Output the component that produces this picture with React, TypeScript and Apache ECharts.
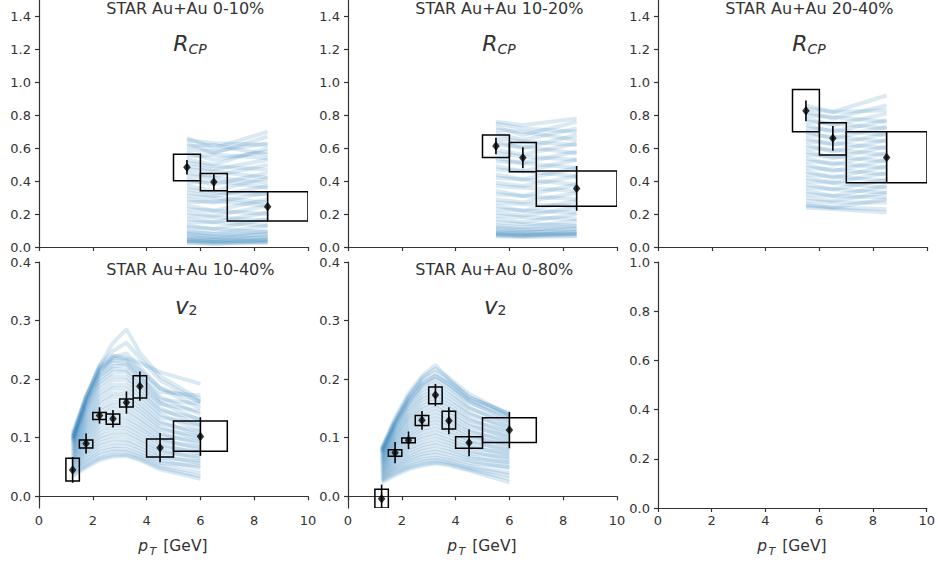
import { useEffect, useRef } from 'react';
import * as echarts from 'echarts';

// ---------- data ----------
const rcpPt = [5.5, 6.5, 8.5];
const rcpBinLo = [5, 6, 7];
const rcpBinHi = [6, 7, 10];

const rcp0010 = [0.484, 0.394, 0.245];
const rcp0010Stat = [0.044, 0.05, 0.09];
const rcp0010SysLo = [0.402, 0.342, 0.158];
const rcp0010SysHi = [0.564, 0.447, 0.336];

const rcp1020 = [0.613, 0.542, 0.356];
const rcp1020Stat = [0.05, 0.064, 0.136];
const rcp1020SysLo = [0.544, 0.457, 0.247];
const rcp1020SysHi = [0.68, 0.635, 0.461];

const rcp2040 = [0.827, 0.66, 0.544];
const rcp2040Stat = [0.063, 0.075, 0.155];
const rcp2040SysLo = [0.7, 0.558, 0.39];
const rcp2040SysHi = [0.957, 0.754, 0.7];

const v2Pt = [1.25, 1.75, 2.25, 2.75, 3.25, 3.75, 4.5, 6];
const v2BinLo = [1, 1.5, 2, 2.5, 3, 3.5, 4, 5];
const v2BinHi = [1.5, 2, 2.5, 3, 3.5, 4, 5, 7];

const v21040 = [0.045, 0.09, 0.138, 0.1325, 0.16, 0.188, 0.083, 0.102];
const v21040Stat = [0.022, 0.017, 0.014, 0.015, 0.019, 0.025, 0.025, 0.033];
const v21040SysLo = [0.026, 0.0825, 0.131, 0.123, 0.1525, 0.168, 0.067, 0.077];
const v21040SysHi = [0.065, 0.096, 0.143, 0.1405, 0.166, 0.206, 0.098, 0.1285];

const v20080 = [-0.004, 0.0745, 0.0956, 0.1297, 0.173, 0.129, 0.0915, 0.113];
const v20080Stat = [0.024, 0.018, 0.015, 0.016, 0.019, 0.023, 0.023, 0.031];
const v20080SysLo = [-0.02, 0.0683, 0.0915, 0.121, 0.158, 0.115, 0.082, 0.092];
const v20080SysHi = [0.012, 0.0796, 0.0995, 0.138, 0.1866, 0.145, 0.1018, 0.134];

// model curves (values at rcpPt)
const rcpCurves0010 = [
  [0.66, 0.60, 0.70], [0.65, 0.63, 0.62], [0.63, 0.57, 0.67], [0.61, 0.62, 0.56],
  [0.59, 0.58, 0.63], [0.57, 0.53, 0.58], [0.55, 0.56, 0.54], [0.53, 0.50, 0.60],
  [0.51, 0.49, 0.47], [0.49, 0.47, 0.53], [0.47, 0.46, 0.42], [0.45, 0.43, 0.50],
  [0.43, 0.42, 0.39], [0.41, 0.38, 0.45], [0.39, 0.40, 0.36], [0.37, 0.34, 0.42],
  [0.35, 0.33, 0.32], [0.33, 0.31, 0.37], [0.31, 0.30, 0.27], [0.29, 0.27, 0.33],
  [0.27, 0.28, 0.25], [0.25, 0.22, 0.29], [0.23, 0.22, 0.20], [0.21, 0.19, 0.25],
  [0.19, 0.18, 0.16], [0.17, 0.15, 0.21], [0.15, 0.15, 0.13], [0.13, 0.11, 0.17],
  [0.12, 0.11, 0.09], [0.10, 0.08, 0.13], [0.09, 0.08, 0.07], [0.08, 0.06, 0.10],
  [0.07, 0.06, 0.05], [0.06, 0.05, 0.08], [0.05, 0.04, 0.04], [0.045, 0.04, 0.06],
  [0.04, 0.03, 0.03], [0.035, 0.03, 0.045], [0.03, 0.02, 0.025], [0.025, 0.02, 0.035],
];
const rcpCurves1020 = [
  [0.76, 0.74, 0.78], [0.75, 0.72, 0.70], [0.73, 0.68, 0.76], [0.71, 0.70, 0.65],
  [0.69, 0.65, 0.72], [0.66, 0.64, 0.62], [0.64, 0.60, 0.68], [0.62, 0.61, 0.57],
  [0.59, 0.56, 0.63], [0.57, 0.55, 0.53], [0.54, 0.51, 0.58], [0.52, 0.51, 0.48],
  [0.49, 0.46, 0.53], [0.47, 0.46, 0.43], [0.44, 0.41, 0.48], [0.42, 0.41, 0.38],
  [0.39, 0.37, 0.43], [0.37, 0.36, 0.34], [0.34, 0.31, 0.38], [0.32, 0.31, 0.29],
  [0.29, 0.27, 0.33], [0.27, 0.26, 0.25], [0.25, 0.22, 0.28], [0.23, 0.22, 0.21],
  [0.21, 0.19, 0.24], [0.19, 0.18, 0.17], [0.17, 0.15, 0.20], [0.15, 0.14, 0.13],
  [0.13, 0.12, 0.16], [0.12, 0.11, 0.11], [0.11, 0.10, 0.13], [0.10, 0.09, 0.09],
  [0.09, 0.085, 0.11], [0.085, 0.08, 0.08], [0.08, 0.07, 0.09], [0.075, 0.07, 0.07],
  [0.07, 0.065, 0.08], [0.065, 0.06, 0.065],
];
const rcpCurves2040 = [
  [0.86, 0.82, 0.92], [0.84, 0.82, 0.83], [0.82, 0.78, 0.86], [0.80, 0.79, 0.76],
  [0.78, 0.74, 0.81], [0.76, 0.75, 0.72], [0.74, 0.70, 0.77], [0.72, 0.71, 0.68],
  [0.70, 0.66, 0.73], [0.68, 0.67, 0.64], [0.66, 0.62, 0.69], [0.64, 0.63, 0.60],
  [0.62, 0.58, 0.65], [0.60, 0.59, 0.56], [0.58, 0.54, 0.61], [0.56, 0.55, 0.52],
  [0.54, 0.50, 0.57], [0.52, 0.51, 0.48], [0.50, 0.46, 0.53], [0.48, 0.47, 0.44],
  [0.46, 0.42, 0.49], [0.44, 0.43, 0.40], [0.42, 0.39, 0.45], [0.40, 0.39, 0.36],
  [0.38, 0.35, 0.41], [0.36, 0.35, 0.33], [0.34, 0.31, 0.37], [0.32, 0.31, 0.30],
  [0.30, 0.28, 0.33], [0.28, 0.27, 0.27], [0.26, 0.24, 0.29], [0.25, 0.24, 0.23],
  [0.24, 0.23, 0.21],
];
// model curves (values at v2Pt)
const v2Curves1040 = [
  [0.108, 0.172, 0.222, 0.262, 0.285, 0.245, 0.205, 0.165],
  [0.104, 0.170, 0.220, 0.240, 0.236, 0.228, 0.212, 0.192],
  [0.102, 0.168, 0.218, 0.236, 0.234, 0.215, 0.185, 0.150],
  [0.100, 0.165, 0.214, 0.232, 0.232, 0.210, 0.178, 0.172],
  [0.100, 0.168, 0.224, 0.248, 0.262, 0.236, 0.198, 0.160],
  [0.098, 0.160, 0.208, 0.228, 0.226, 0.202, 0.170, 0.140],
  [0.096, 0.158, 0.205, 0.222, 0.224, 0.205, 0.165, 0.158],
  [0.095, 0.162, 0.212, 0.238, 0.244, 0.220, 0.185, 0.162],
  [0.094, 0.154, 0.200, 0.218, 0.216, 0.195, 0.160, 0.130],
  [0.092, 0.150, 0.195, 0.212, 0.212, 0.190, 0.158, 0.145],
  [0.090, 0.146, 0.190, 0.205, 0.204, 0.184, 0.150, 0.120],
  [0.088, 0.142, 0.183, 0.198, 0.198, 0.178, 0.146, 0.132],
  [0.085, 0.137, 0.176, 0.190, 0.190, 0.172, 0.140, 0.112],
  [0.083, 0.132, 0.170, 0.184, 0.183, 0.165, 0.135, 0.122],
  [0.080, 0.127, 0.163, 0.176, 0.176, 0.158, 0.128, 0.104],
  [0.078, 0.123, 0.157, 0.170, 0.169, 0.152, 0.124, 0.110],
  [0.075, 0.118, 0.150, 0.162, 0.162, 0.146, 0.118, 0.096],
  [0.073, 0.114, 0.144, 0.156, 0.155, 0.140, 0.114, 0.102],
  [0.070, 0.109, 0.138, 0.149, 0.148, 0.133, 0.108, 0.088],
  [0.068, 0.105, 0.132, 0.142, 0.142, 0.128, 0.104, 0.094],
  [0.065, 0.100, 0.126, 0.136, 0.135, 0.121, 0.098, 0.080],
  [0.063, 0.096, 0.120, 0.130, 0.129, 0.116, 0.094, 0.084],
  [0.060, 0.091, 0.114, 0.123, 0.122, 0.110, 0.089, 0.072],
  [0.058, 0.087, 0.108, 0.117, 0.116, 0.104, 0.084, 0.076],
  [0.055, 0.082, 0.102, 0.110, 0.110, 0.098, 0.079, 0.064],
  [0.053, 0.078, 0.097, 0.104, 0.104, 0.093, 0.075, 0.068],
  [0.050, 0.073, 0.091, 0.098, 0.097, 0.087, 0.070, 0.056],
  [0.048, 0.069, 0.086, 0.092, 0.092, 0.082, 0.066, 0.060],
  [0.045, 0.064, 0.080, 0.086, 0.086, 0.077, 0.061, 0.048],
  [0.043, 0.060, 0.075, 0.081, 0.080, 0.072, 0.057, 0.052],
  [0.040, 0.056, 0.070, 0.076, 0.076, 0.068, 0.053, 0.040],
  [0.037, 0.052, 0.065, 0.071, 0.071, 0.064, 0.049, 0.034],
  [0.034, 0.049, 0.062, 0.068, 0.069, 0.062, 0.046, 0.030],
];
const v2Curves0080 = [
  [0.082, 0.134, 0.176, 0.205, 0.224, 0.200, 0.168, 0.142],
  [0.080, 0.130, 0.170, 0.198, 0.212, 0.196, 0.170, 0.140],
  [0.079, 0.128, 0.170, 0.202, 0.218, 0.202, 0.175, 0.138],
  [0.078, 0.127, 0.166, 0.193, 0.206, 0.190, 0.162, 0.128],
  [0.076, 0.124, 0.162, 0.188, 0.200, 0.186, 0.160, 0.134],
  [0.075, 0.122, 0.160, 0.190, 0.205, 0.192, 0.165, 0.136],
  [0.074, 0.120, 0.157, 0.182, 0.194, 0.180, 0.152, 0.120],
  [0.072, 0.117, 0.152, 0.176, 0.188, 0.174, 0.150, 0.126],
  [0.070, 0.113, 0.147, 0.170, 0.181, 0.168, 0.143, 0.112],
  [0.068, 0.110, 0.142, 0.165, 0.175, 0.162, 0.140, 0.118],
  [0.066, 0.106, 0.137, 0.159, 0.169, 0.156, 0.133, 0.104],
  [0.064, 0.103, 0.133, 0.153, 0.163, 0.151, 0.130, 0.110],
  [0.062, 0.099, 0.128, 0.148, 0.157, 0.145, 0.124, 0.097],
  [0.060, 0.096, 0.123, 0.142, 0.151, 0.140, 0.120, 0.102],
  [0.058, 0.092, 0.118, 0.136, 0.145, 0.134, 0.114, 0.090],
  [0.056, 0.089, 0.114, 0.131, 0.139, 0.129, 0.110, 0.095],
  [0.054, 0.085, 0.109, 0.125, 0.133, 0.123, 0.105, 0.083],
  [0.052, 0.082, 0.104, 0.120, 0.127, 0.118, 0.101, 0.088],
  [0.050, 0.078, 0.100, 0.114, 0.121, 0.112, 0.096, 0.076],
  [0.048, 0.075, 0.095, 0.109, 0.115, 0.107, 0.092, 0.080],
  [0.046, 0.071, 0.090, 0.103, 0.109, 0.101, 0.087, 0.069],
  [0.044, 0.068, 0.086, 0.098, 0.104, 0.096, 0.083, 0.073],
  [0.042, 0.064, 0.081, 0.092, 0.098, 0.091, 0.078, 0.062],
  [0.040, 0.061, 0.077, 0.087, 0.092, 0.086, 0.074, 0.066],
  [0.038, 0.058, 0.072, 0.082, 0.087, 0.081, 0.069, 0.055],
  [0.036, 0.054, 0.068, 0.077, 0.081, 0.076, 0.065, 0.058],
  [0.034, 0.051, 0.064, 0.072, 0.076, 0.071, 0.061, 0.048],
  [0.032, 0.048, 0.060, 0.068, 0.071, 0.066, 0.057, 0.050],
  [0.030, 0.045, 0.056, 0.063, 0.066, 0.062, 0.052, 0.040],
  [0.028, 0.042, 0.052, 0.059, 0.062, 0.058, 0.049, 0.036],
  [0.026, 0.039, 0.049, 0.055, 0.058, 0.055, 0.046, 0.030],
  [0.023, 0.036, 0.046, 0.052, 0.056, 0.053, 0.044, 0.024],
];

const xTicks = [0, 2, 4, 6, 8, 10];
const rcpTicks = [0, 0.2, 0.4, 0.6, 0.8, 1.0, 1.2, 1.4];
const v2Ticks = [0, 0.1, 0.2, 0.3, 0.4];
const emptyTicks = [0, 0.2, 0.4, 0.6, 0.8, 1.0];

const titles = ['STAR Au+Au 0-10%', 'STAR Au+Au 10-20%', 'STAR Au+Au 20-40%', 'STAR Au+Au 10-40%', 'STAR Au+Au 0-80%'];

// ---------- layout ----------
const FONT = 'DejaVu Sans';
const TXT = '#333333';
const colLeft = [39, 348, 658];
const colWidth = 269;
const rowTop = [0, 262];
const rowHeight = [247, 246];
const unitX = colWidth / 10;

type Panel = {
  pt: number[]; val: number[]; stat: number[]; sysLo: number[]; sysHi: number[];
  binLo: number[]; binHi: number[]; curves: number[][];
};

const panels: Panel[] = [
  { pt: rcpPt, val: rcp0010, stat: rcp0010Stat, sysLo: rcp0010SysLo, sysHi: rcp0010SysHi, binLo: rcpBinLo, binHi: rcpBinHi, curves: rcpCurves0010 },
  { pt: rcpPt, val: rcp1020, stat: rcp1020Stat, sysLo: rcp1020SysLo, sysHi: rcp1020SysHi, binLo: rcpBinLo, binHi: rcpBinHi, curves: rcpCurves1020 },
  { pt: rcpPt, val: rcp2040, stat: rcp2040Stat, sysLo: rcp2040SysLo, sysHi: rcp2040SysHi, binLo: rcpBinLo, binHi: rcpBinHi, curves: rcpCurves2040 },
  { pt: v2Pt, val: v21040, stat: v21040Stat, sysLo: v21040SysLo, sysHi: v21040SysHi, binLo: v2BinLo, binHi: v2BinHi, curves: v2Curves1040 },
  { pt: v2Pt, val: v20080, stat: v20080Stat, sysLo: v20080SysLo, sysHi: v20080SysHi, binLo: v2BinLo, binHi: v2BinHi, curves: v2Curves0080 },
];

function buildOption() {
  const grids: any[] = [];
  const xAxes: any[] = [];
  const yAxes: any[] = [];
  const series: any[] = [];
  const graphics: any[] = [];
  const axisLine = { show: true, lineStyle: { color: TXT, width: 1.2 } };
  const axisTickBase = { show: true, length: 4, inside: false, lineStyle: { color: TXT, width: 1.2 } };

  for (let g = 0; g < 6; g++) {
    const row = Math.floor(g / 3);
    const col = g % 3;
    grids.push({ left: colLeft[col], top: rowTop[row], width: colWidth, height: rowHeight[row], containLabel: false });
    xAxes.push({
      type: 'value', gridIndex: g, min: 0, max: 10,
      axisLine, axisTick: { ...axisTickBase, customValues: xTicks },
      axisLabel: { show: row === 1, customValues: xTicks, fontSize: 13, color: TXT, fontFamily: FONT, margin: 6 },
      splitLine: { show: false },
    });
    let yMin = 0, yMax = 1.5, ticks = rcpTicks;
    if (row === 1) {
      if (col < 2) { yMin = -0.02; yMax = 0.4; ticks = v2Ticks; } else { yMin = 0; yMax = 1.0; ticks = emptyTicks; }
    }
    yAxes.push({
      type: 'value', gridIndex: g, min: yMin, max: yMax,
      axisLine, axisTick: { ...axisTickBase, customValues: ticks },
      axisLabel: { customValues: ticks, fontSize: 13, color: TXT, fontFamily: FONT, margin: 8, formatter: (v: number) => v.toFixed(1) },
      splitLine: { show: false },
    });
  }

  panels.forEach((p, g) => {
    const row = Math.floor(g / 3);
    const col = g % 3;
    p.curves.forEach((c) => {
      series.push({
        type: 'line', xAxisIndex: g, yAxisIndex: g, silent: true, symbol: 'none', showSymbol: false,
        data: c.map((v, i) => [p.pt[i], v]),
        lineStyle: { color: '#1f77b4', width: 4, opacity: 0.16 }, z: 1,
      });
    });
    series.push({
      type: 'custom', xAxisIndex: g, yAxisIndex: g, silent: true, clip: true, z: 3,
      data: p.binLo.map((lo, i) => [lo, p.binHi[i], p.sysLo[i], p.sysHi[i]]),
      encode: { x: [0, 1], y: [2, 3] },
      renderItem: (_params: any, api: any) => {
        const a = api.coord([api.value(0), api.value(3)]);
        const b = api.coord([api.value(1), api.value(2)]);
        return {
          type: 'rect',
          shape: { x: a[0], y: a[1], width: b[0] - a[0], height: b[1] - a[1] },
          style: { fill: 'none', stroke: '#000', lineWidth: 1.5 },
        };
      },
    });
    series.push({
      type: 'custom', xAxisIndex: g, yAxisIndex: g, silent: true, clip: true, z: 4,
      data: p.pt.map((x, i) => [x, p.val[i] - p.stat[i], p.val[i] + p.stat[i]]),
      encode: { x: 0, y: [1, 2] },
      renderItem: (_params: any, api: any) => {
        const a = api.coord([api.value(0), api.value(1)]);
        const b = api.coord([api.value(0), api.value(2)]);
        return {
          type: 'line',
          shape: { x1: a[0], y1: a[1], x2: b[0], y2: b[1] },
          style: { stroke: '#000', lineWidth: 1.6 },
        };
      },
    });
    series.push({
      type: 'scatter', xAxisIndex: g, yAxisIndex: g, silent: true, z: 5,
      symbol: 'diamond', symbolSize: [7.5, 9.5],
      data: p.pt.map((x, i) => [x, p.val[i]]),
      itemStyle: { color: '#000' },
    });

    // annotations
    const gl = colLeft[col];
    const isRcp = row === 0;
    graphics.push({
      type: 'text', x: gl + 2.5 * unitX, y: row === 0 ? 8 : 269.7,
      style: { text: titles[g], fontSize: 16, fontFamily: FONT, fill: TXT, textAlign: 'left', textVerticalAlign: 'middle' },
    });
    if (isRcp) {
      graphics.push({
        type: 'text', x: gl + 134.3, y: 43.4,
        style: { text: 'R', fontSize: 22, fontStyle: 'italic', fontFamily: FONT, fill: TXT, textAlign: 'left', textVerticalAlign: 'middle' },
      });
      graphics.push({
        type: 'text', x: gl + 149.5, y: 48.7,
        style: { text: 'CP', fontSize: 14, fontStyle: 'italic', fontFamily: FONT, fill: TXT, textAlign: 'left', textVerticalAlign: 'middle' },
      });
    } else {
      graphics.push({
        type: 'text', x: gl + 136, y: 305.7,
        style: { text: 'v', fontSize: 23, fontStyle: 'italic', fontFamily: FONT, fill: TXT, textAlign: 'left', textVerticalAlign: 'middle' },
      });
      graphics.push({
        type: 'text', x: gl + 149.5, y: 310.4,
        style: { text: '2', fontSize: 14, fontFamily: FONT, fill: TXT, textAlign: 'left', textVerticalAlign: 'middle' },
      });
    }
  });

  // x axis names for bottom row
  for (let col = 0; col < 3; col++) {
    const gl = colLeft[col];
    graphics.push({
      type: 'text', x: gl + 99.3, y: 545.6,
      style: { text: 'p', fontSize: 15.5, fontStyle: 'italic', fontFamily: FONT, fill: TXT, textAlign: 'left', textVerticalAlign: 'middle' },
    });
    graphics.push({
      type: 'text', x: gl + 110.5, y: 551.4,
      style: { text: 'T', fontSize: 11, fontStyle: 'italic', fontFamily: FONT, fill: TXT, textAlign: 'left', textVerticalAlign: 'middle' },
    });
    graphics.push({
      type: 'text', x: gl + 124.3, y: 545.6,
      style: { text: '[GeV]', fontSize: 15.5, fontFamily: FONT, fill: TXT, textAlign: 'left', textVerticalAlign: 'middle' },
    });
  }

  return {
    animation: false,
    backgroundColor: '#ffffff',
    textStyle: { fontFamily: FONT },
    grid: grids,
    xAxis: xAxes,
    yAxis: yAxes,
    series,
    graphic: graphics,
  };
}

export default function App() {
  const ref = useRef<HTMLDivElement>(null);
  useEffect(() => {
    if (!ref.current) return;
    const chart = echarts.init(ref.current, undefined, { renderer: 'svg' });
    chart.setOption(buildOption() as any);
    return () => chart.dispose();
  }, []);
  return <div ref={ref} style={{ position: 'absolute', left: 0, top: 0, width: 938, height: 565 }} />;
}
